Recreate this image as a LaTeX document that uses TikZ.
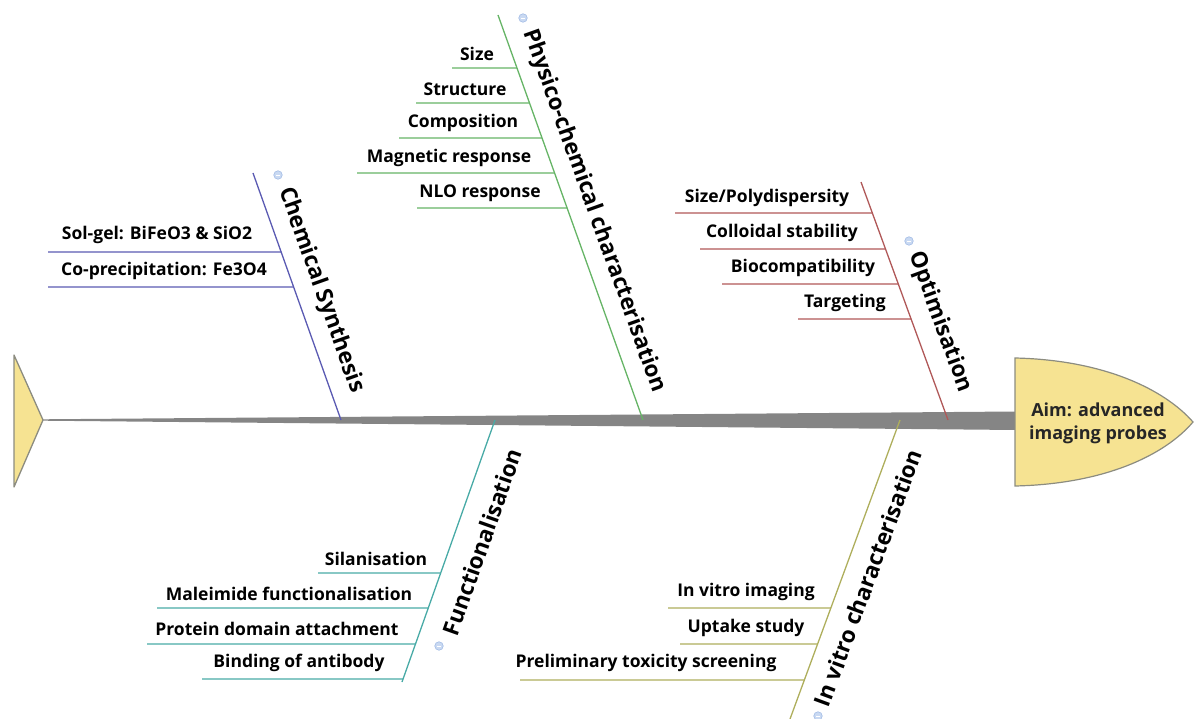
\documentclass[tikz,border=0pt]{standalone}
\usepackage{fontspec}
\setmainfont{Open Sans}
\usetikzlibrary{calc}
\definecolor{cblue}{HTML}{5A5AB2}
\definecolor{cgreen}{HTML}{66B466}
\definecolor{cred}{HTML}{B05858}
\definecolor{cteal}{HTML}{48AAA6}
\definecolor{colive}{HTML}{AEAE5C}
\definecolor{headfill}{HTML}{F6E392}
\definecolor{headline}{HTML}{8C8C80}
\definecolor{spinegray}{HTML}{858585}
\definecolor{iconfill}{HTML}{C9D9F2}
\definecolor{iconline}{HTML}{A3BCE6}
\tikzset{
  subtxt/.style={font=\fontsize{17.5}{20}\selectfont\bfseries, inner sep=0pt},
  titletxt/.style={font=\fontsize{22.5}{26}\selectfont\bfseries, inner sep=0pt},
  branchline/.style={line width=1.3pt},
  subline/.style={line width=1.3pt},
  icon/.style={circle, fill=iconfill, draw=iconline, line width=0.6pt, minimum size=8.5pt, inner sep=0pt,
    path picture={\draw[white, line width=0.9pt] ([xshift=-2pt]path picture bounding box.center) -- ([xshift=2pt]path picture bounding box.center);}},
}
\begin{document}
\begin{tikzpicture}[x=1pt,y=-1pt]
\useasboundingbox (0,0) rectangle (1194,719);
% spine
\fill[spinegray] (43,419.3) -- (1016,411.5) -- (1016,430) -- (43,420.7) -- cycle;
% ---------- Chemical Synthesis ----------
\coordinate (csT) at (253,173); \coordinate (csB) at (341,420);
\draw[cblue, branchline] (csT) -- (csB);
\coordinate (cs1a) at (48,252); \coordinate (cs1b) at ($(csT)!0.320!(csB)$);
\coordinate (cs2a) at (48,287); \coordinate (cs2b) at ($(csT)!0.4615!(csB)$);
\draw[cblue, subline] (cs1a) -- (cs1b);
\draw[cblue, subline] (cs2a) -- (cs2b);
\node[subtxt] (cs1) at (157,235) {Sol-gel: BiFeO3 \& SiO2};
\node[subtxt] (cs2) at (164,271) {Co-precipitation: Fe3O4};
\node[titletxt, rotate=-70.4] (cst) at (321,290) {Chemical Synthesis};
\node[icon] (csi) at (278,175) {};
% ---------- Physico-chemical characterisation ----------
\coordinate (pcT) at (498,15); \coordinate (pcB) at (643,420);
\draw[cgreen, branchline] (pcT) -- (pcB);
\coordinate (pc1a) at (452,68);  \coordinate (pc1b) at ($(pcT)!0.1309!(pcB)$);
\coordinate (pc2a) at (416,103); \coordinate (pc2b) at ($(pcT)!0.2173!(pcB)$);
\coordinate (pc3a) at (399,138); \coordinate (pc3b) at ($(pcT)!0.3037!(pcB)$);
\coordinate (pc4a) at (357,173); \coordinate (pc4b) at ($(pcT)!0.3901!(pcB)$);
\coordinate (pc5a) at (417,208); \coordinate (pc5b) at ($(pcT)!0.4765!(pcB)$);
\foreach \i in {1,...,5} {\draw[cgreen, subline] (pc\i a) -- (pc\i b);}
\node[subtxt] (pc1) at (477,54) {Size};
\node[subtxt] (pc2) at (465,89) {Structure};
\node[subtxt] (pc3) at (463,123) {Composition};
\node[subtxt] (pc4) at (449,158) {Magnetic response};
\node[subtxt] (pc5) at (480,193) {NLO response};
\node[titletxt, rotate=-70.3] (pct) at (594,211) {Physico-chemical characterisation};
\node[icon] (pci) at (523,18) {};
% ---------- Optimisation ----------
\coordinate (opT) at (861,182); \coordinate (opB) at (948,420);
\draw[cred, branchline] (opT) -- (opB);
\coordinate (op1a) at (675,213); \coordinate (op1b) at ($(opT)!0.1303!(opB)$);
\coordinate (op2a) at (700,249); \coordinate (op2b) at ($(opT)!0.2815!(opB)$);
\coordinate (op3a) at (722,284); \coordinate (op3b) at ($(opT)!0.4286!(opB)$);
\coordinate (op4a) at (798,319); \coordinate (op4b) at ($(opT)!0.5756!(opB)$);
\foreach \i in {1,...,4} {\draw[cred, subline] (op\i a) -- (op\i b);}
\node[subtxt] (op1) at (767,198) {Size/Polydispersity};
\node[subtxt] (op2) at (782,233) {Colloidal stability};
\node[subtxt] (op3) at (803,268) {Biocompatibility};
\node[subtxt] (op4) at (845,303) {Targeting};
\node[titletxt, rotate=-69.9] (opt) at (940,322) {Optimisation};
\node[icon] (opi) at (909,241) {};
% ---------- Functionalisation ----------
\coordinate (fuT) at (495,420); \coordinate (fuB) at (402,682);
\draw[cteal, branchline] (fuT) -- (fuB);
\coordinate (fu1a) at (318,573); \coordinate (fu1b) at ($(fuT)!0.584!(fuB)$);
\coordinate (fu2a) at (157,608); \coordinate (fu2b) at ($(fuT)!0.7176!(fuB)$);
\coordinate (fu3a) at (147,644); \coordinate (fu3b) at ($(fuT)!0.855!(fuB)$);
\coordinate (fu4a) at (202,679); \coordinate (fu4b) at ($(fuT)!0.9885!(fuB)$);
\foreach \i in {1,...,4} {\draw[cteal, subline] (fu\i a) -- (fu\i b);}
\node[subtxt] (fu1) at (376,559) {Silanisation};
\node[subtxt] (fu2) at (289,594) {Maleimide functionalisation};
\node[subtxt] (fu3) at (277,629) {Protein domain attachment};
\node[subtxt] (fu4) at (299,663) {Binding of antibody};
\node[titletxt, rotate=70.5] (fut) at (482,542) {Functionalisation};
\node[icon] (fui) at (439,646) {};
% ---------- In vitro characterisation ----------
\coordinate (ivT) at (900,420); \coordinate (ivB) at (790,719);
\draw[colive, branchline] (ivT) -- (ivB);
\coordinate (iv1a) at (668,608); \coordinate (iv1b) at ($(ivT)!0.6288!(ivB)$);
\coordinate (iv2a) at (680,644); \coordinate (iv2b) at ($(ivT)!0.7492!(ivB)$);
\coordinate (iv3a) at (520,680); \coordinate (iv3b) at ($(ivT)!0.8696!(ivB)$);
\foreach \i in {1,...,3} {\draw[colive, subline] (iv\i a) -- (iv\i b);}
\node[subtxt] (iv1) at (746,592) {In vitro imaging};
\node[subtxt] (iv2) at (746,628) {Uptake study};
\node[subtxt] (iv3) at (646,663) {Preliminary toxicity screening};
\node[titletxt, rotate=69.8] (ivt) at (868,578) {In vitro characterisation};
\node[icon] (ivi) at (818,716) {};
% ---------- tail ----------
\draw[headline, fill=headfill, line width=1.3pt, line join=round] (14,355) -- (43,420) -- (14,487) -- cycle;
% ---------- head ----------
\draw[headline, fill=headfill, line width=1.2pt] (1015,358) .. controls (1105,360) and (1165,390) .. (1193,422)
  .. controls (1165,455) and (1105,484) .. (1015,486) -- cycle;
\node[font=\fontsize{18}{23}\selectfont\bfseries, align=center, text=black!85, inner sep=0pt] (aim) at (1098,423) {Aim: advanced\\imaging probes};
\end{tikzpicture}
\end{document}
